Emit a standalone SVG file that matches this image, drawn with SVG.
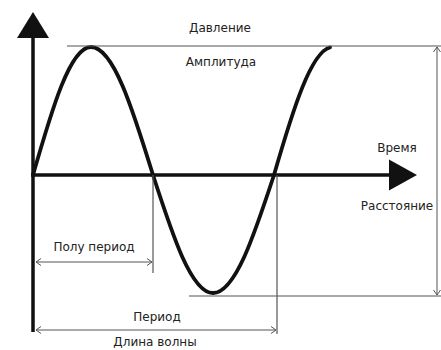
<svg xmlns="http://www.w3.org/2000/svg" width="441" height="350" viewBox="0 0 441 350">
<style>
.axis{stroke:#111;stroke-width:3.5;fill:none}
.wave{stroke:#111;stroke-width:3.8;fill:none;stroke-linecap:round}
.thin{stroke:#555;stroke-width:1.2;fill:none}
.dim{stroke:#555;stroke-width:1;fill:none}
.head{fill:#111;stroke:none}
text{font-family:"DejaVu Sans","Liberation Sans",sans-serif;font-size:12px;fill:#222}
</style>
<defs>
<marker id="open" viewBox="0 0 10 10" refX="9" refY="5" markerWidth="10" markerHeight="10" markerUnits="userSpaceOnUse" orient="auto-start-reverse">
<path d="M4,1.5 L9,5 L4,8.5" fill="none" stroke="#555" stroke-width="1"/>
</marker>
</defs>
<g id="axes">
<line class="axis" x1="33" y1="36" x2="33" y2="332"/>
<polygon class="head" points="33,12 49,38 17,38"/>
<line class="axis" x1="31" y1="175" x2="392" y2="175"/>
<polygon class="head" points="417,175 389,159.5 389,190.5"/>
</g>
<g id="wave">
<path class="wave" d="M33,175 C51.9,109.4 70,47 91,47 C113.4,47 132.8,109.4 153,175 C172.6,235.5 191.3,293 213,293 C235.1,293 254.1,235.5 274,175 C292.9,109.4 311,52 330,47.5"/>
</g>
<g id="connectors">
<line class="thin" x1="67" y1="46" x2="441" y2="46"/>
<line class="thin" x1="189" y1="296" x2="441" y2="296"/>
<line class="dim" x1="437" y1="47" x2="437" y2="295" marker-start="url(#open)" marker-end="url(#open)"/>
<line class="thin" x1="153" y1="175" x2="153" y2="273"/>
<line class="dim" x1="36" y1="262" x2="152" y2="262" marker-start="url(#open)" marker-end="url(#open)"/>
<line class="thin" x1="277" y1="175" x2="277" y2="334"/>
<line class="dim" x1="36" y1="330" x2="276" y2="330" marker-start="url(#open)" marker-end="url(#open)"/>
</g>
<g id="labels">
<text x="220" y="32" text-anchor="middle">Давление</text>
<text x="221" y="66" text-anchor="middle">Амплитуда</text>
<text x="397" y="152" text-anchor="middle">Время</text>
<text x="397" y="210" text-anchor="middle">Расстояние</text>
<text x="94" y="251" text-anchor="middle">Полу период</text>
<text x="157" y="321" text-anchor="middle">Период</text>
<text x="155" y="346" text-anchor="middle">Длина волны</text>
</g>
</svg>
